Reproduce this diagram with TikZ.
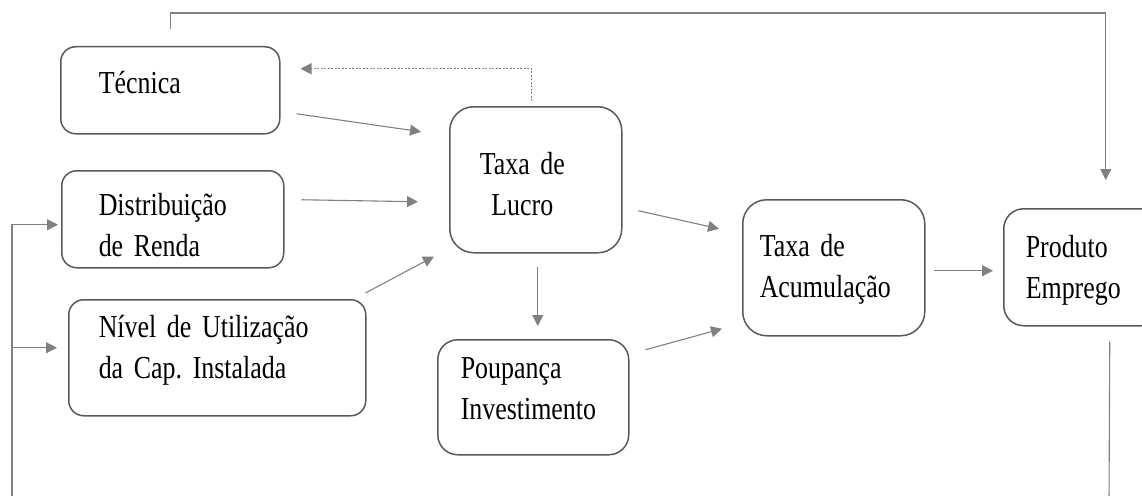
\documentclass[tikz,border=0pt]{standalone}
\usepackage{fontspec}
\setmainfont{Liberation Serif}[FakeStretch=0.81]
\usepackage{tikz}
\usetikzlibrary{arrows.meta}
\hyphenpenalty=10000
\frenchspacing
\newcommand{\boxfont}{\fontsize{32}{41}\selectfont\spaceskip=6pt plus 1pt minus 1pt\relax}

\begin{document}
\begin{tikzpicture}[x=1pt,y=-1pt,font=\boxfont]
    \tikzstyle{box}=[draw=black!65,line width=1.5pt,rounded corners=15pt,anchor=north west,align=left,inner ysep=0pt]
    \tikzstyle{bigbox}=[box,rounded corners=24pt]
    \tikzstyle{link}=[draw=black!50,line width=1.1pt,-{Triangle[length=11pt,width=11pt]}]
    \tikzstyle{back}=[link,dash pattern=on 2pt off 1.5pt]

    \useasboundingbox (0,0) rectangle (1142,495);
    \clip (0,0) rectangle (1142,495);

    \node[box, inner xsep=38pt, text width=143pt, text height=47pt, text depth=40pt] (tec) at (60,46) {Técnica};
    \node[box, inner xsep=37pt, text width=148pt, text height=45pt, text depth=52pt] (dist) at (61,170) {Distribuição\\de Renda};
    \node[box, inner xsep=30pt, text width=237pt, text height=38pt, text depth=78pt] (nivel) at (68,299) {Nível de Utilização\\da Cap. Instalada};
    \node[bigbox, inner xsep=30pt, text width=112pt, text height=68pt, text depth=78pt] (lucro) at (449,106) {\begin{tabular}[t]{@{}c@{}}Taxa de\\Lucro\end{tabular}};
    \node[box, rounded corners=20pt, inner xsep=23pt, text width=145pt, text height=39pt, text depth=76pt] (poup) at (437,339) {Poupança\\Investimento};
    \node[bigbox, inner xsep=17pt, text width=148pt, text height=57pt, text depth=79pt] (acum) at (742,199) {Taxa de\\Acumulação};
    \node[box, rounded corners=20pt, inner xsep=22pt, text width=113pt, text height=49pt, text depth=68pt] (prod) at (1003,208) {Produto\\Emprego};

    \coordinate (fbL) at (12,500);
    \coordinate (fbR) at (1109,500);

    \path
    ([shift={(16,23.5)}]tec.east) edge[link] ([shift={(-28,-48)}]lucro.west)
    ([shift={(17,-19.5)}]dist.east) edge[link] ([shift={(-31,22)}]lucro.west)
    ([shift={(-1,-6)}]nivel.north east) edge[link] ([shift={(-15,3)}]lucro.south west)
    ([shift={(2,13)}]lucro.south) edge[link] ([shift={(4.5,-13)}]poup.north)
    ([shift={(16,31)}]lucro.east) edge[link] ([shift={(-23,-39)}]acum.west)
    ([shift={(16,-47.5)}]poup.east) edge[link] ([shift={(-20,61)}]acum.west)
    ([shift={(8,3)}]acum.east) edge[link] ([shift={(-10,3.5)}]prod.west)
    ;

    % feedback paths
    \draw[back] ([shift={(-4,-5)}]lucro.north) |- ([shift={(20,-21.5)}]tec.east);
    \draw[link] ([shift={(0.5,-17)}]tec.north) -- ++(0,-16) -| ([shift={(23.5,-28)}]prod.north);
    \draw[draw=black!50,line width=1.1pt] ([shift={(27.5,15)}]prod.south) -- (fbR);
    \draw[link] (fbL) |- ([shift={(-3,5.5)}]dist.west);
    \draw[link] (fbL) |- ([shift={(-11,-10)}]nivel.west);
\end{tikzpicture}
\end{document}
